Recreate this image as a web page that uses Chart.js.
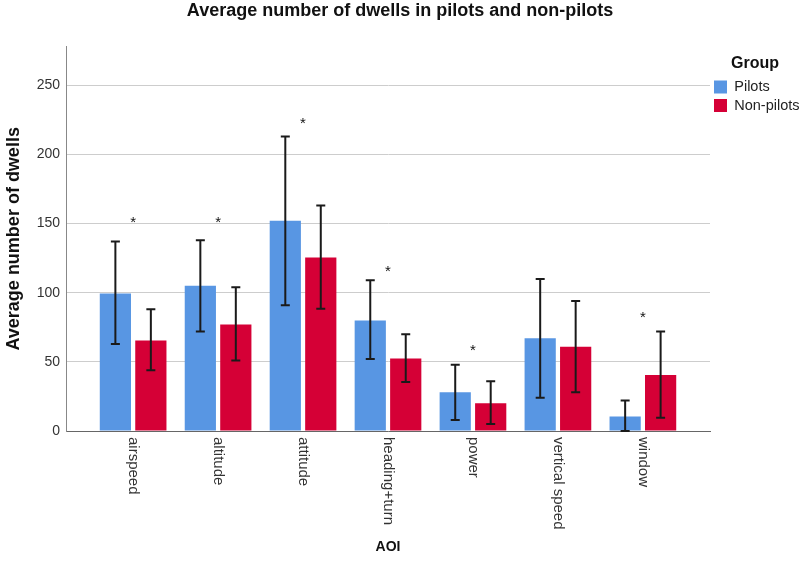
<!DOCTYPE html>
<html>
<head>
<meta charset="utf-8">
<title>Average number of dwells in pilots and non-pilots</title>
<script src="https://cdn.jsdelivr.net/npm/chart.js@4.4.1/dist/chart.umd.min.js"></script>
<style>
    html, body { margin: 0; padding: 0; background: #fff; }
    #box { width: 800px; height: 561px; }
</style>
</head>
<body>
<div id="box"><canvas id="barChart"></canvas></div>
<script>
const ctx = document.getElementById("barChart").getContext("2d");

// AOI (asse x)
const categorie = ["airspeed", "altitude", "attitude", "heading+turn", "power", "vertical speed", "window"];

// medie
const piloti    = [99.5, 105, 152, 80, 28, 67, 10.5];
const nonPiloti = [65.5, 77, 125.5, 52.5, 20, 61, 40.5];

// barre di errore (min / max)
const pilotiMin    = [63, 72, 91, 52, 8, 24, 0];
const pilotiMax    = [137, 138, 213, 109, 48, 110, 22];
const nonPilotiMin = [44, 51, 88.5, 35.5, 5, 28, 9.5];
const nonPilotiMax = [88, 104, 163, 70, 36, 94, 72];

// asterischi di significativita (null = niente)
const stelle = [154, 154, 225, 118, 61, null, 85];

const tickY = [0, 50, 100, 150, 200, 250];

const FONT = "'Liberation Sans', Arial, Helvetica, sans-serif";
Chart.defaults.font.family = FONT;

//? le etichette x sono ruotate in giu, chart.js non lo fa -> le disegno io
const extra =
{
    id: "extra",
    afterDatasetsDraw(chart) {
        const c = chart.ctx;
        const sx = chart.scales.x;
        const sy = chart.scales.y;
        const errori = [[pilotiMin, pilotiMax], [nonPilotiMin, nonPilotiMax]];

        c.save();
        c.strokeStyle = "#1a1a1a";
        c.lineWidth = 2;
        errori.forEach(([lo, hi], d) => {
            chart.getDatasetMeta(d).data.forEach((bar, i) => {
                const y1 = sy.getPixelForValue(lo[i]);
                const y2 = sy.getPixelForValue(hi[i]);
                c.beginPath();
                c.moveTo(bar.x, y1); c.lineTo(bar.x, y2);
                c.moveTo(bar.x - 4.5, y1); c.lineTo(bar.x + 4.5, y1);
                c.moveTo(bar.x - 4.5, y2); c.lineTo(bar.x + 4.5, y2);
                c.stroke();
            });
        });

        c.fillStyle = "#111";
        c.font = "15px " + FONT;
        c.textAlign = "center";
        c.textBaseline = "alphabetic";
        stelle.forEach((v, i) => {
            if (v === null) return;
            c.fillText("*", sx.getPixelForValue(i), sy.getPixelForValue(v) + 8.5);
        });
        c.restore();
    },
    afterDraw(chart) {
        const c = chart.ctx;
        const sx = chart.scales.x;
        c.save();
        c.fillStyle = "#333";
        c.font = "15px " + FONT;
        c.textAlign = "left";
        c.textBaseline = "middle";
        categorie.forEach((nome, i) => {
            c.save();
            c.translate(sx.getPixelForValue(i), sx.top + 6);
            c.rotate(Math.PI / 2);
            c.fillText(nome, 0, 0);
            c.restore();
        });
        c.restore();
    }
};

const chart = new Chart(ctx,
    {
        type: "bar",
        data:
        {
            datasets:
                [
                    {
                        label: "Pilots",
                        data: piloti.map((v, i) => ({ x: i, y: v })),
                        backgroundColor: "#5896e3",
                        borderWidth: 0,
                        categoryPercentage: 0.835,
                        barPercentage: 0.88
                    },
                    {
                        label: "Non-pilots",
                        data: nonPiloti.map((v, i) => ({ x: i, y: v })),
                        backgroundColor: "#d50036",
                        borderWidth: 0,
                        categoryPercentage: 0.835,
                        barPercentage: 0.88
                    }
                ]
        },
        options:
        {
            responsive: true,
            maintainAspectRatio: false,
            animation: false,
            layout: { padding: 0 },
            plugins:
            {
                title:
                {
                    display: true,
                    text: "Average number of dwells in pilots and non-pilots",
                    color: "#111",
                    font: { size: 18, weight: "bold" },
                    padding: { top: 0, bottom: 25 }
                },
                legend:
                {
                    position: "right",
                    align: "start",
                    fullSize: false,
                    maxWidth: 90,
                    title:
                    {
                        display: true,
                        text: "Group",
                        color: "#111",
                        font: { size: 16, weight: "bold" },
                        padding: { top: 9, bottom: 1 }
                    },
                    labels:
                    {
                        boxWidth: 13,
                        boxHeight: 13,
                        padding: 4,
                        color: "#222",
                        font: { size: 14.5 }
                    }
                },
                tooltip: { enabled: false }
            },
            scales:
            {
                x:
                {
                    type: "linear",
                    min: -0.79,
                    max: 6.79,
                    offset: false,
                    grid: { display: false },
                    border: { display: true, color: "#666", width: 1 },
                    ticks: { display: false, stepSize: 1, includeBounds: false },
                    afterBuildTicks: (s) => { s.ticks = categorie.map((n, i) => ({ value: i })); },
                    title:
                    {
                        display: true,
                        text: "AOI",
                        color: "#111",
                        font: { size: 14, weight: "bold" },
                        padding: { top: 0, bottom: 5 }
                    },
                    afterFit: (s) => { s.height = 130; }
                },
                y:
                {
                    min: 0,
                    max: 278,
                    grid: { color: "#cdcdcd", lineWidth: 1, drawTicks: false },
                    border: { color: "#888", width: 1 },
                    ticks: { padding: 6, color: "#333", font: { size: 14 } },
                    afterBuildTicks: (s) => { s.ticks = tickY.map(v => ({ value: v })); },
                    title:
                    {
                        display: true,
                        text: "Average number of dwells",
                        color: "#111",
                        font: { size: 18, weight: "bold" },
                        padding: { top: 3, bottom: 0 }
                    },
                    afterFit: (s) => { s.width = 66; }
                }
            }
        },
        plugins: [extra]
    });
</script>
</body>
</html>
